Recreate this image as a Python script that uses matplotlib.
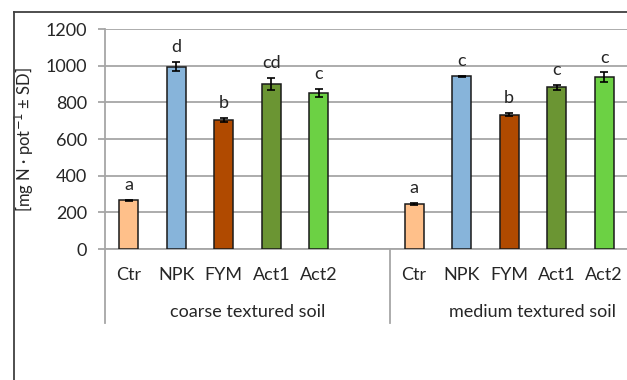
import matplotlib
matplotlib.use("Agg")
import matplotlib.pyplot as plt
from matplotlib.lines import Line2D
import matplotlib.transforms as mtransforms

plt.rcParams['font.family'] = ['Lato', 'DejaVu Sans']

# Data
treatments = ["Ctr", "NPK", "FYM", "Act1", "Act2"]
soils = ["coarse textured soil", "medium textured soil"]
coarse_vals = [265, 995, 705, 902, 850]
coarse_sd = [5, 25, 12, 32, 22]
coarse_letters = ["a", "d", "b", "cd", "c"]
medium_vals = [246, 941, 733, 881, 937]
medium_sd = [4, 3, 7, 16, 26]
medium_letters = ["a", "c", "b", "c", "c"]
colors = ["#FFC08A", "#87B4DA", "#B04A00", "#6B9533", "#6CD144"]

text_color = "#262626"
grid_color = "#A6A6A6"
fs = 13

fig = plt.figure(figsize=(6.27, 3.80), dpi=100)
W, H = 627, 380
ax = fig.add_axes([105 / W, 1 - 249 / H, (628 - 105) / W, (249 - 29) / H])

# slot positions: 5 coarse bars, one empty slot, 5 medium bars
x_coarse = list(range(5))
x_medium = [6 + i for i in range(5)]
width = 0.4

for xs, vals, sds, letters in [(x_coarse, coarse_vals, coarse_sd, coarse_letters),
                               (x_medium, medium_vals, medium_sd, medium_letters)]:
    ax.bar(xs, vals, width=width, color=colors, edgecolor="#1a1a1a", linewidth=1.1, zorder=3)
    ax.errorbar(xs, vals, yerr=sds, fmt="none", ecolor="black", elinewidth=1.2,
                capsize=3, capthick=1.2, zorder=4)
    for x, v, s, lab in zip(xs, vals, sds, letters):
        ax.annotate(lab, (x, v + s), xytext=(0, 5), textcoords="offset points",
                    ha="center", va="bottom", fontsize=fs, color=text_color)

ax.set_xlim(-0.5, 10.5)
ax.set_ylim(0, 1200)
ax.set_yticks(range(0, 1201, 200))
ax.yaxis.grid(True, color=grid_color, linewidth=1.3, zorder=0)
ax.set_axisbelow(True)
for s in ["top", "right"]:
    ax.spines[s].set_visible(False)
for s in ["left", "bottom"]:
    ax.spines[s].set_color(grid_color)
    ax.spines[s].set_linewidth(1.3)
ax.tick_params(axis="y", direction="out", length=5, width=1.3, color=grid_color,
               labelsize=fs, labelcolor=text_color, pad=8)
ax.set_xticks(x_coarse + x_medium)
ax.set_xticklabels(treatments + treatments)
ax.tick_params(axis="x", length=0, labelsize=fs, labelcolor=text_color, pad=13)

ax.set_ylabel("[mg N · pot$^{-1}$ ± SD]", fontsize=12, color=text_color, labelpad=7)

# group labels and separators below the axis
trans = mtransforms.blended_transform_factory(ax.transData, fig.transFigure)
y_sep_bottom = 1 - 323 / H
for xsep in [-0.5, 5.5, 10.5]:
    ax.add_line(Line2D([xsep, xsep], [1 - 249 / H, y_sep_bottom], transform=trans,
                       color=grid_color, linewidth=1.3, clip_on=False))
ax.text(2.5, 1 - 312 / H, soils[0], transform=trans, ha="center", va="center",
        fontsize=fs, color=text_color)
ax.text(8.5, 1 - 312 / H, soils[1], transform=trans, ha="center", va="center",
        fontsize=fs, color=text_color)

# chart frame
fig.add_artist(Line2D([14 / W, 14 / W], [0, 1 - 12 / H], transform=fig.transFigure,
                      color="#404040", linewidth=1.3))
fig.add_artist(Line2D([14 / W, 1], [1 - 12 / H, 1 - 12 / H], transform=fig.transFigure,
                      color="#404040", linewidth=1.3))

fig.savefig("out.png", dpi=100)
